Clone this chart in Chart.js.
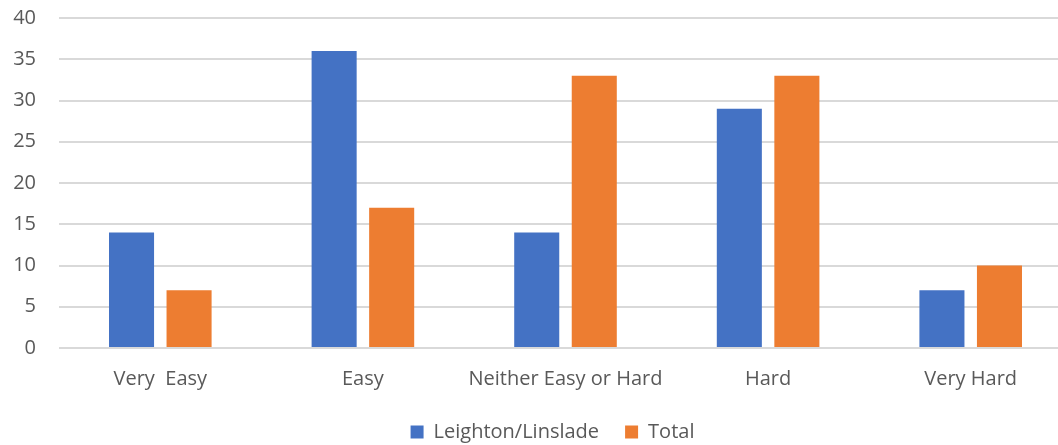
<!DOCTYPE html>
<html>
<head>
<meta charset="utf-8">
<script src="https://cdn.jsdelivr.net/npm/chart.js@4.4.1/dist/chart.umd.min.js"></script>
<style>
  html, body { margin: 0; padding: 0; background: #ffffff; overflow: hidden; }
  /* the plot runs a little past the right edge of the window */
  #wrap { width: 1072px; height: 445px; position: relative; }
</style>
</head>
<body>
<div id="wrap"><canvas id="chart"></canvas></div>
<script>
// Survey responses by difficulty rating
const categories = ['Very  Easy', 'Easy', 'Neither Easy or Hard', 'Hard', 'Very Hard'];
const leightonLinslade = [14, 36, 14, 29, 7];
const total = [7, 17, 33, 33, 10];
const yTicks = [0, 5, 10, 15, 20, 25, 30, 35, 40];

const textColor = '#595959';
const gridColor = '#d9d9d9';
const fontFamily = '"Open Sans", Lato, "Liberation Sans", sans-serif';

// nudge the legend row a little to the left of the plot centre
const legendShift = {
  id: 'legendShift',
  afterLayout(chart) {
    const lg = chart.legend;
    if (lg) { lg.left -= 13; lg.right -= 13; }
  }
};

new Chart(document.getElementById('chart'), {
  type: 'bar',
  data: {
    labels: categories,
    datasets: [
      { label: 'Leighton/Linslade', data: leightonLinslade, backgroundColor: '#4472C4' },
      { label: 'Total', data: total, backgroundColor: '#ED7D31' }
    ]
  },
  plugins: [legendShift],
  options: {
    responsive: true,
    maintainAspectRatio: false,
    animation: false,
    datasets: { bar: { categoryPercentage: 0.568, barPercentage: 0.783 } },
    layout: { padding: { top: 18, right: 0, left: 0, bottom: -7 } },
    plugins: {
      tooltip: { enabled: false },
      legend: {
        position: 'bottom',
        fullSize: false,
        labels: {
          color: textColor,
          font: { family: fontFamily, size: 20 },
          boxWidth: 13,
          boxHeight: 13,
          padding: 26
        }
      }
    },
    scales: {
      x: {
        grid: { display: false, drawTicks: false },
        border: { display: false },
        ticks: { color: textColor, font: { family: fontFamily, size: 20 }, padding: 19, maxRotation: 0 },
        afterFit: (scale) => { scale.height = 48; }
      },
      y: {
        min: 0,
        max: 40,
        afterBuildTicks: (scale) => { scale.ticks = yTicks.map(v => ({ value: v })); },
        grid: { color: gridColor, lineWidth: 2, drawTicks: false },
        border: { display: false },
        ticks: { color: textColor, font: { family: fontFamily, size: 20 }, padding: 23 },
        afterFit: (scale) => {
          scale.width = 59;
          scale.paddingTop = 0;
          scale.paddingBottom = 0;
        }
      }
    }
  }
});
</script>
</body>
</html>
